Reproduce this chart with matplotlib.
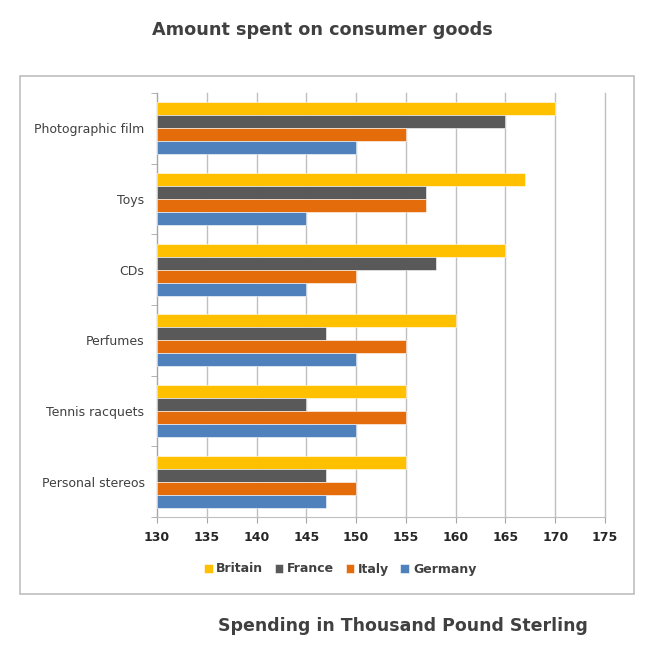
import numpy as np
import matplotlib.pyplot as plt
from matplotlib.patches import Rectangle

# data
categories = ["Photographic film", "Toys", "CDs", "Perfumes",
              "Tennis racquets", "Personal stereos"]
britain = [170, 167, 165, 160, 155, 155]
france = [165, 157, 158, 147, 145, 147]
italy = [155, 157, 150, 155, 155, 150]
germany = [150, 145, 145, 150, 150, 147]

series = [("Britain", britain, "#FFC000"),
          ("France", france, "#595959"),
          ("Italy", italy, "#E46C0A"),
          ("Germany", germany, "#4F81BD")]

W, H = 655, 654
fig = plt.figure(figsize=(W / 100, H / 100), dpi=100)

# outer chart border
fig.patches.append(Rectangle((20 / W, 1 - 594 / H), 614 / W, 518 / H,
                             transform=fig.transFigure, fill=False,
                             edgecolor="#BFBFBF", linewidth=1.2))

ax = fig.add_axes([157 / W, 1 - 517 / H, 448 / W, 424 / H])

base = 130
bar_h = 0.184
y = np.arange(len(categories))
for i, (name, vals, color) in enumerate(series):
    offs = (i - 1.5) * bar_h
    ax.barh(y + offs, np.array(vals) - base, left=base, height=bar_h,
            color=color, label=name, edgecolor="white", linewidth=0.4,
            zorder=3)

ax.set_xlim(130, 175)
ax.set_ylim(len(categories) - 0.5, -0.5)
ax.set_xticks(np.arange(130, 176, 5))
ax.set_yticks(y)
ax.set_yticklabels(categories, fontsize=9, color="#404040")
ax.set_yticks(np.arange(-0.5, len(categories)), minor=True)
ax.tick_params(axis="y", which="major", length=0, pad=9)
ax.tick_params(axis="y", which="minor", length=4, color="#A6A6A6")
ax.tick_params(axis="x", length=4, color="#A6A6A6", labelsize=9,
               labelcolor="#262626", pad=6)
for lab in ax.get_xticklabels():
    lab.set_fontweight("bold")

ax.grid(axis="x", color="#BFBFBF", linewidth=1, zorder=0)
for gl in ax.get_xgridlines():
    gl.set_clip_on(False)
for side in ["top", "right"]:
    ax.spines[side].set_visible(False)
ax.spines["left"].set_color("#A6A6A6")
ax.spines["bottom"].set_color("#BFBFBF")

fig.text(322 / W, 1 - 30 / H, "Amount spent on consumer goods",
         ha="center", va="center", fontsize=12.7, fontweight="bold",
         color="#404040")
fig.text(403 / W, 1 - 626 / H, "Spending in Thousand Pound Sterling",
         ha="center", va="center", fontsize=12.5, fontweight="bold",
         color="#404040")

leg = fig.legend(loc="center", bbox_to_anchor=(340 / W, 1 - 569 / H),
                 ncol=4, frameon=False, fontsize=9, handlelength=0.7,
                 handleheight=0.7, handletextpad=0.3, columnspacing=0.9)
for t in leg.get_texts():
    t.set_fontweight("bold")
    t.set_color("#404040")

fig.savefig("out.png", dpi=100)
